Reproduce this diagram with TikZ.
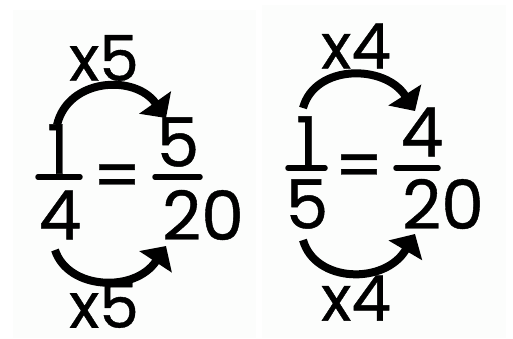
\documentclass[tikz,border=0pt]{standalone}
\usepackage{fontspec}
\setmainfont{Poppins}
\newfontfamily\handfont{Poppins}[FakeBold=0.6]
\usetikzlibrary{arrows.meta}
\definecolor{panelbg}{RGB}{252,253,252}
\tikzset{
  num/.style={inner sep=0pt, font=\handfont\fontsize{68}{68}\selectfont},
  lab/.style={inner sep=0pt, font=\handfont\fontsize{63}{63}\selectfont},
  eqs/.style={inner sep=0pt, font=\handfont\fontsize{68}{68}\selectfont},
  bar/.style={line width=5.5pt, line cap=round},
  curve/.style={line width=8pt, -{Triangle[length=19pt,width=38pt]}},
  panel/.style={fill=panelbg, draw=none}
}
\begin{document}
\begin{tikzpicture}[x=1pt,y=-1pt]
\useasboundingbox (0,0) rectangle (513,338);
\fill[white] (0,0) rectangle (513,338);
\path[panel] (13,10) rectangle (256,338);
\path[panel] (262,5) rectangle (506,338);
% left
\node[lab] (lt) at (104,58) {x5};
\node[num] (ln1) at (58,149) {1};
\node[num] (ld1) at (60,215) {4};
\coordinate (lb1a) at (38,177);
\coordinate (lb1b) at (80,177);
\draw[bar] (lb1a) -- (lb1b);
\node[eqs] (leq) at (117,182) {=};
\node[num] (ln2) at (178,142) {5};
\node[num] (ld2) at (203,215) {20};
\coordinate (lb2a) at (155,177);
\coordinate (lb2b) at (200,177);
\draw[bar] (lb2a) -- (lb2b);
\node[lab] (lb) at (104,305) {x5};
\coordinate (lta) at (57,125);
\coordinate (ltb) at (166,118);
\draw[curve] (lta) .. controls (68,78) and (135,74) .. (ltb);
\coordinate (lba) at (55,250);
\coordinate (lbb) at (166,246);
\draw[curve] (lba) .. controls (68,290) and (135,293) .. (lbb);
% right
\node[lab] (rt) at (356,46) {x4};
\node[num] (rn1) at (307,141) {1};
\node[num] (rd1) at (307,204) {5};
\coordinate (rb1a) at (288,168);
\coordinate (rb1b) at (325,168);
\draw[bar] (rb1a) -- (rb1b);
\node[eqs] (req) at (359,172) {=};
\node[num] (rn2) at (422,132) {4};
\node[num] (rd2) at (443,204) {20};
\coordinate (rb2a) at (396,168);
\coordinate (rb2b) at (438,168);
\draw[bar] (rb2a) -- (rb2b);
\node[lab] (rb) at (356,298) {x4};
\coordinate (rta) at (303,108);
\coordinate (rtb) at (415,111);
\draw[curve] (rta) .. controls (315,64) and (385,64) .. (rtb);
\coordinate (rba) at (303,240);
\coordinate (rbb) at (415,234);
\draw[curve] (rba) .. controls (315,283) and (385,285) .. (rbb);
\end{tikzpicture}
\end{document}
